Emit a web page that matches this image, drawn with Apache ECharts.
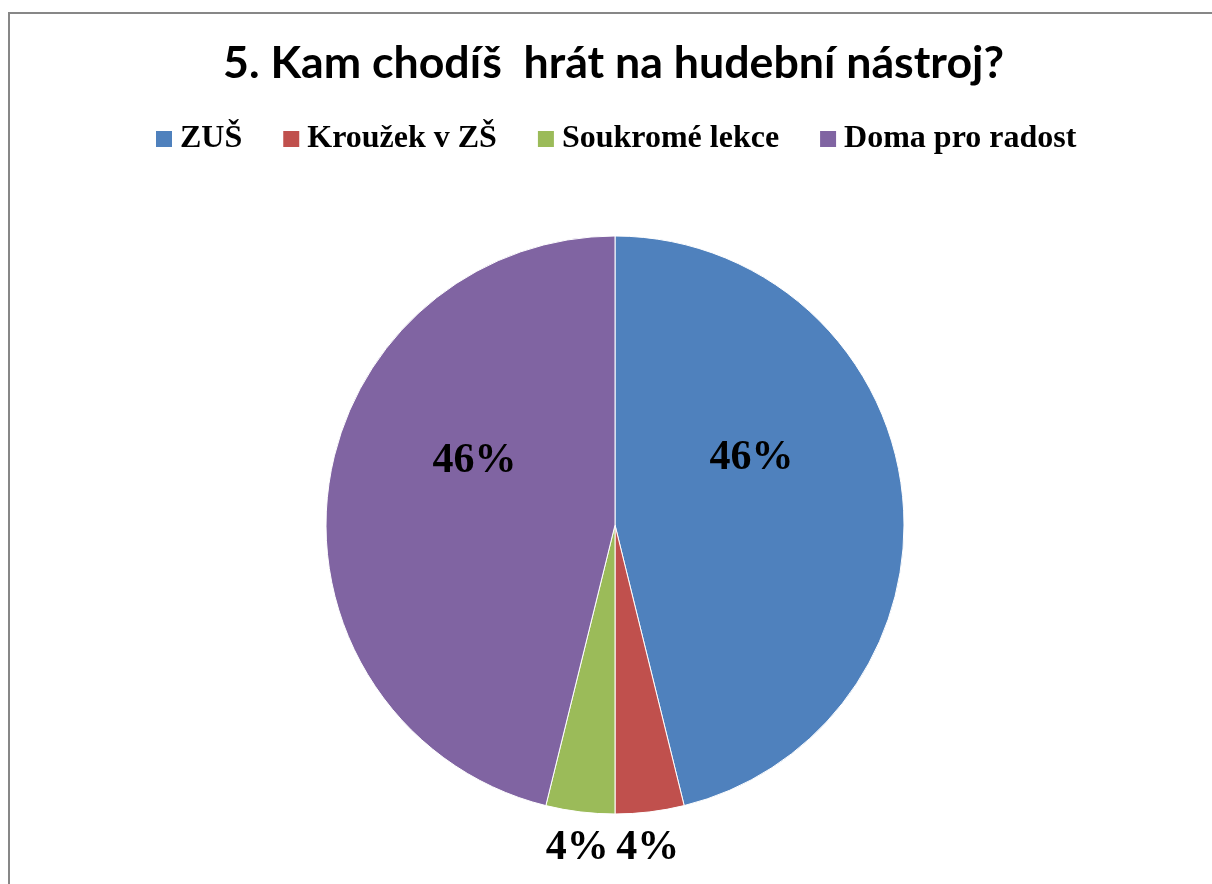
<!DOCTYPE html>
<html>
<head>
<meta charset="utf-8">
<script src="https://cdn.jsdelivr.net/npm/echarts@6/dist/echarts.min.js"></script>
<style>
  html, body { margin: 0; padding: 0; background: #fff; }
  #chart { width: 1212px; height: 884px; }
</style>
</head>
<body>
<div id="chart"></div>
<script>
  // data (12 / 1 / 1 / 12 answers)
  var categories = ['ZUŠ', 'Kroužek v ZŠ', 'Soukromé lekce', 'Doma pro radost'];
  var values = [12, 1, 1, 12];
  var colors = ['#4F81BD', '#C0504D', '#9BBB59', '#8064A2'];
  // label nudges [dx, dy] from the default inside spot (Excel puts them in its own spots)
  var labelShift = [[-10, -49], [15, 177], [-20, 177], [6, -46]];

  var myChart = echarts.init(document.getElementById('chart'));

  var pieData = categories.map(function (name, i) {
    return {
      name: name,
      value: values[i],
      itemStyle: { color: colors[i] }
    };
  });

  var option = {
    backgroundColor: '#fff',
    animation: false,
    graphic: [{
      type: 'rect',
      shape: { x: 9, y: 13, width: 1400, height: 1000 },
      style: { fill: 'none', stroke: '#878787', lineWidth: 2 },
      silent: true
    }],
    title: {
      text: '5. Kam chodíš  hrát na hudební nástroj?',
      left: 218,
      top: 36,
      textStyle: {
        fontFamily: 'Lato',
        fontWeight: 'bold',
        fontSize: 44.7,
        color: '#000'
      }
    },
    legend: {
      data: categories,
      left: 151,
      top: 118,
      icon: 'rect',
      itemWidth: 16,
      itemHeight: 16,
      itemGap: 41,
      itemStyle: { borderWidth: 0 },
      textStyle: {
        fontFamily: 'Liberation Serif',
        fontWeight: 'bold',
        fontSize: 32,
        lineHeight: 32,
        color: '#000',
        padding: [0, 0, 0, 3]
      }
    },
    series: [{
      type: 'pie',
      center: [615, 525],
      radius: 289,
      startAngle: 90,
      clockwise: true,
      avoidLabelOverlap: false,
      itemStyle: { borderColor: '#fff', borderWidth: 1 },
      label: {
        show: true,
        position: 'inside',
        formatter: function (p) { return Math.round(p.percent) + '%'; },
        fontFamily: 'Liberation Serif',
        fontWeight: 'bold',
        fontSize: 42,
        color: '#000'
      },
      labelLayout: function (params) {
        var s = labelShift[params.dataIndex];
        return { dx: s[0], dy: s[1] };
      },
      labelLine: { show: false },
      emphasis: { disabled: true },
      data: pieData
    }]
  };
  myChart.setOption(option);
</script>
</body>
</html>
